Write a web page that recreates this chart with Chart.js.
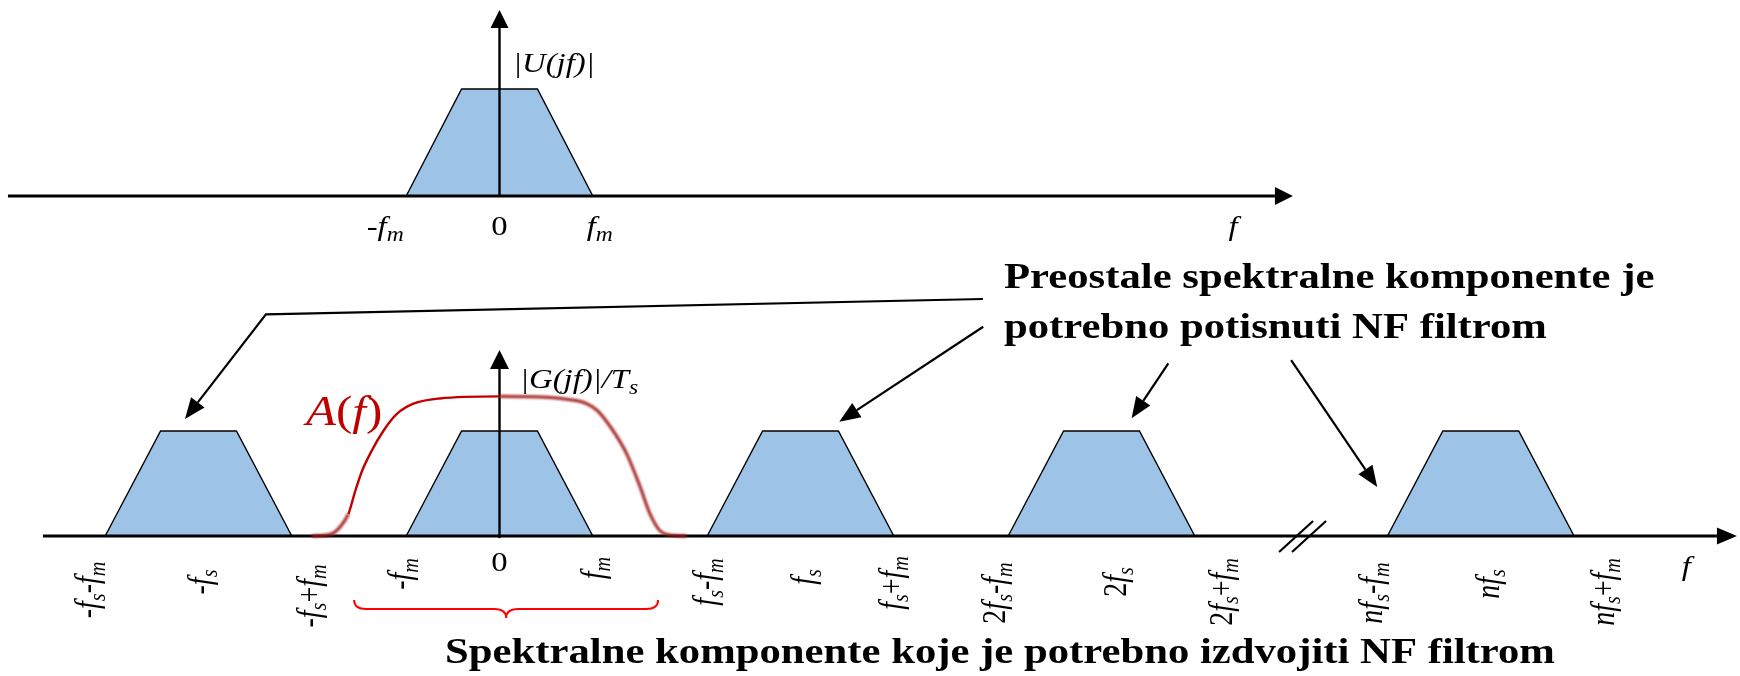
<!DOCTYPE html>
<html>
<head>
<meta charset="utf-8">
<script src="https://cdn.jsdelivr.net/npm/chart.js@4/dist/chart.umd.min.js"></script>
<style>
  html, body { margin: 0; padding: 0; background: #fff; }
  #wrap { width: 1740px; height: 676px; position: relative; }
</style>
</head>
<body>
<div id="wrap"><canvas id="c" width="1740" height="676"></canvas></div>
<script>
// Frequencies are in units of fs; magnitudes are normalised to the baseband peak.

// Baseband spectrum |U(jf)| (trapezoid corners)
const basebandFreq = [-0.31, -0.126, 0.126, 0.31];
const basebandMag  = [0, 1, 1, 0];

// Centres of the spectral replicas of the sampled signal: -fs, 0, fs, 2fs, n·fs (after the axis break)
const replicaCentres = [-1, 0, 1, 2, 3.26];

// Low-pass (NF) filter response A(f)
const filterFreq = [-0.624, -0.563, -0.530, -0.502, -0.480, -0.458, -0.425, -0.386, -0.342, -0.286, -0.198, 0,
                    0.256, 0.323, 0.378, 0.423, 0.467, 0.500, 0.533, 0.566, 0.622];
const filterGain = [0, 0.015, 0.085, 0.21, 0.42, 0.61, 0.81, 1.0, 1.16, 1.26, 1.31, 1.33,
                    1.29, 1.2, 1.0, 0.78, 0.47, 0.21, 0.05, 0.01, 0];

// Tick labels of the sampled spectrum ('_' marks a subscript)
const bottomTickValues = [-1.31, -1, -0.69, -0.31, 0, 0.31, 0.69, 1, 1.31, 1.69, 2, 2.31, 2.95, 3.26, 3.57];
const bottomTickLabels = ['-f_s-f_m', '-f_s', '-f_s+f_m', '-f_m', '0', 'f_m', 'f_s-f_m', 'f_s', 'f_s+f_m',
                          '2f_s-f_m', '2f_s', '2f_s+f_m', 'nf_s-f_m', 'nf_s', 'nf_s+f_m'];

// Tick labels of the baseband spectrum
const topTickValues = [-0.31, 0, 0.31];
const topTickLabels = ['-f_m', '0', 'f_m'];

// Text
const topAxisName = '|U(jf)|';
const bottomAxisName = '|G(jf)|/T_s';
const filterName = 'A(f)';
const freqName = 'f';
const calloutLines = ['Preostale spektralne komponente je', 'potrebno potisnuti NF filtrom'];
const passbandNote = 'Spektralne komponente koje je potrebno izdvojiti NF filtrom';

// ---------- layout ----------
const W = 1740, H = 676;
const L = {
  originX: 499.5, pxPerFs: 301,
  baseBottom: 536, pxPerUnitBottom: 105,
  baseTop: 196, pxPerUnitTop: 107
};
const SERIF = '"Liberation Serif", "Times New Roman", serif';
const SX = 1.17;            // horizontal stretch of the lettering
const LABEL_SIZE = 28;

// horizontal label nudges (px) and vertical label centres (px) for the rotated tick labels
const bottomLabelDx = [-18, 1.5, 17, -6, 0, 0, -2, 3, -3, -14, 14, 26, -16, 7, 29];
const bottomLabelCy = [590, 582, 596, 574, 562, 568, 582, 577, 583, 593, 582, 592, 593, 584, 592];
const topLabelDx = [-21, 0, 7];

// callout arrows, in (f / fs, bottom-panel magnitude) units
const callouts = [
  [[1.606, 2.257], [-0.776, 2.111], [-1.045, 1.114]],
  [[1.607, 1.993], [1.129, 1.089]],
  [[2.222, 1.645], [2.100, 1.121]],
  [[2.630, 1.676], [2.916, 0.467]]
];
// axis break marks (//) on the frequency axis
const breakMarks = [[[2.590, -0.152], [2.703, 0.143]], [[2.633, -0.152], [2.746, 0.143]]];

// ---------- drawing helpers ----------
function drawRich(ctx, str, x, y, o) {
  const size = o.size, sub = size * 0.72;
  const parts = [];
  for (let i = 0; i < str.length; i++) {
    let ch = str[i], isSub = false;
    if (ch === '_') { isSub = true; ch = str[++i]; }
    const italic = o.allItalic || /[A-Za-z]/.test(ch);
    parts.push({ ch, isSub, italic });
  }
  const fontOf = p => `${p.italic ? 'italic ' : ''}${p.isSub ? sub : size}px ${SERIF}`;
  let w = 0;
  for (const p of parts) { ctx.font = fontOf(p); p.w = ctx.measureText(p.ch).width; w += p.w; }
  ctx.save();
  ctx.translate(x, y);
  ctx.scale(o.sx || 1, 1);
  if (o.rotate) ctx.rotate(-Math.PI / 2);
  let cx = o.align === 'left' ? 0 : -w / 2;
  const by = o.middle ? size * 0.33 : 0;
  ctx.fillStyle = o.color || '#000';
  ctx.textAlign = 'left';
  ctx.textBaseline = 'alphabetic';
  for (const p of parts) {
    ctx.font = fontOf(p);
    ctx.fillText(p.ch, cx, by + (p.isSub ? size * 0.2 : 0));
    cx += p.w;
  }
  ctx.restore();
}

function drawPlain(ctx, str, x, y, font, align) {
  ctx.save();
  ctx.translate(x, y);
  ctx.scale(SX, 1);
  ctx.font = font;
  ctx.fillStyle = '#000';
  ctx.textAlign = align;
  ctx.textBaseline = 'alphabetic';
  ctx.fillText(str, 0, 0);
  ctx.restore();
}

function arrowHead(ctx, x0, y0, x1, y1, len, half) {
  const a = Math.atan2(y1 - y0, x1 - x0);
  const bx = x1 - len * Math.cos(a), by = y1 - len * Math.sin(a);
  ctx.beginPath();
  ctx.moveTo(x1, y1);
  ctx.lineTo(bx + half * Math.sin(a), by - half * Math.cos(a));
  ctx.lineTo(bx - half * Math.sin(a), by + half * Math.cos(a));
  ctx.closePath();
  ctx.fill();
  return [bx, by];
}

function arrowLine(ctx, x0, y0, x1, y1, width, len, half) {
  const [bx, by] = arrowHead(ctx, x0, y0, x1, y1, len, half);
  ctx.lineWidth = width;
  ctx.beginPath();
  ctx.moveTo(x0, y0);
  ctx.lineTo(bx, by);
  ctx.stroke();
}

function drawAxes(chart) {
  const ctx = chart.ctx, xs = chart.scales.x, yb = chart.scales.y, yt = chart.scales.yTop;
  ctx.save();
  ctx.strokeStyle = '#000';
  ctx.fillStyle = '#000';
  // baseband spectrum axes
  arrowLine(ctx, xs.getPixelForValue(-1.633), yt.getPixelForValue(0), xs.getPixelForValue(2.636), yt.getPixelForValue(0), 3, 18, 9);
  arrowLine(ctx, xs.getPixelForValue(0), yt.getPixelForValue(0), xs.getPixelForValue(0), yt.getPixelForValue(1.738), 2.4, 18, 9);
  // sampled spectrum axes
  arrowLine(ctx, xs.getPixelForValue(-1.517), yb.getPixelForValue(0), xs.getPixelForValue(4.111), yb.getPixelForValue(0), 3, 20, 8.5);
  arrowLine(ctx, xs.getPixelForValue(0), yb.getPixelForValue(-0.02), xs.getPixelForValue(0), yb.getPixelForValue(1.771), 2.4, 19, 9.5);
  // axis break
  ctx.lineWidth = 2.2;
  for (const seg of breakMarks) {
    ctx.beginPath();
    ctx.moveTo(xs.getPixelForValue(seg[0][0]), yb.getPixelForValue(seg[0][1]));
    ctx.lineTo(xs.getPixelForValue(seg[1][0]), yb.getPixelForValue(seg[1][1]));
    ctx.stroke();
  }
  ctx.restore();
}

function drawAnnotations(chart) {
  const ctx = chart.ctx, xs = chart.scales.x, yb = chart.scales.y, yt = chart.scales.yTop;
  ctx.save();
  ctx.strokeStyle = '#000';
  ctx.fillStyle = '#000';

  // tick labels, baseband
  topTickValues.forEach((v, i) => {
    drawRich(ctx, topTickLabels[i], xs.getPixelForValue(v) + topLabelDx[i], 226,
             { size: LABEL_SIZE, sx: SX, middle: true });
  });
  drawRich(ctx, freqName, xs.getPixelForValue(2.437), 226, { size: LABEL_SIZE, sx: SX, middle: true });
  drawRich(ctx, topAxisName, xs.getPixelForValue(0.045), 72, { size: LABEL_SIZE, sx: SX, align: 'left', allItalic: true });

  // tick labels, sampled spectrum
  bottomTickValues.forEach((v, i) => {
    const lab = bottomTickLabels[i];
    drawRich(ctx, lab, xs.getPixelForValue(v) + bottomLabelDx[i], bottomLabelCy[i],
             { size: LABEL_SIZE, sx: SX, middle: true, rotate: lab !== '0' });
  });
  drawRich(ctx, freqName, xs.getPixelForValue(3.943), 566, { size: LABEL_SIZE, sx: SX, middle: true });
  drawRich(ctx, bottomAxisName, xs.getPixelForValue(0.068), 388, { size: LABEL_SIZE, sx: SX, align: 'left', allItalic: true });
  drawRich(ctx, filterName, xs.getPixelForValue(-0.643), 425, { size: 42, sx: SX, align: 'left', color: '#c00000' });

  // callouts
  ctx.lineWidth = 2.2;
  ctx.lineJoin = 'miter';
  for (const path of callouts) {
    const pts = path.map(p => [xs.getPixelForValue(p[0]), yb.getPixelForValue(p[1])]);
    const n = pts.length;
    const [bx, by] = arrowHead(ctx, pts[n - 2][0], pts[n - 2][1], pts[n - 1][0], pts[n - 1][1], 21, 8.5);
    ctx.beginPath();
    ctx.moveTo(pts[0][0], pts[0][1]);
    for (let k = 1; k < n - 1; k++) ctx.lineTo(pts[k][0], pts[k][1]);
    ctx.lineTo(bx, by);
    ctx.stroke();
  }
  const boldFont = `bold 36.5px ${SERIF}`;
  drawPlain(ctx, calloutLines[0], 1004, 288, boldFont, 'left');
  drawPlain(ctx, calloutLines[1], 1004, 338, boldFont, 'left');

  // brace under the pass band
  const bl = xs.getPixelForValue(-0.483), br = xs.getPixelForValue(0.527), bm = xs.getPixelForValue(0.022);
  const top = 600, mid = 609, tip = 618;
  ctx.strokeStyle = '#ff0000';
  ctx.lineWidth = 2;
  ctx.beginPath();
  ctx.moveTo(bl, top);
  ctx.quadraticCurveTo(bl, mid, bl + 12, mid);
  ctx.lineTo(bm - 12, mid);
  ctx.quadraticCurveTo(bm, mid, bm, tip);
  ctx.quadraticCurveTo(bm, mid, bm + 12, mid);
  ctx.lineTo(br - 12, mid);
  ctx.quadraticCurveTo(br, mid, br, top);
  ctx.stroke();
  drawPlain(ctx, passbandNote, 1000, 663, boldFont, 'center');
  ctx.restore();
}

// ---------- datasets ----------
const sharpPart = c => c.p0.parsed.x >= -0.51 && c.p1.parsed.x <= 0.001;
const filterPoints = filterFreq.map((f, i) => ({ x: f, y: filterGain[i] }));

const datasets = [
  { label: 'A(f)', isFilter: true, data: filterPoints, yAxisID: 'y', order: 0,
    borderColor: '#c00000', borderWidth: 2.4, pointRadius: 0, fill: false,
    cubicInterpolationMode: 'monotone',
    segment: { borderColor: c => sharpPart(c) ? '#c00000' : 'rgba(0,0,0,0)' } },
  { label: 'A(f) soft', isFilter: true, soft: true, data: filterPoints, yAxisID: 'y', order: 0,
    borderColor: 'rgba(160,25,25,0.9)', borderWidth: 3.2, pointRadius: 0, fill: false,
    cubicInterpolationMode: 'monotone',
    segment: { borderColor: c => sharpPart(c) ? 'rgba(0,0,0,0)' : 'rgba(160,25,25,0.9)' } }
];
const trapStyle = { backgroundColor: '#9dc3e6', borderColor: '#000', borderWidth: 1.4,
                    pointRadius: 0, tension: 0, fill: 'origin', order: 1 };
replicaCentres.forEach(c => {
  datasets.push(Object.assign({ label: 'G ' + c, yAxisID: 'y',
    data: basebandFreq.map((f, i) => ({ x: c + f, y: basebandMag[i] })) }, trapStyle));
});
datasets.push(Object.assign({ label: 'U', yAxisID: 'yTop',
  data: basebandFreq.map((f, i) => ({ x: f, y: basebandMag[i] })) }, trapStyle));

const diagramPlugin = {
  id: 'diagram',
  beforeDatasetsDraw(chart) { chart.$axesDone = false; },
  beforeDatasetDraw(chart, args) {
    const ds = chart.data.datasets[args.index];
    if (ds.isFilter && !chart.$axesDone) { drawAxes(chart); chart.$axesDone = true; }
    if (ds.soft) { chart.ctx.save(); chart.ctx.filter = 'blur(1.1px)'; }
  },
  afterDatasetDraw(chart, args) {
    if (chart.data.datasets[args.index].soft) chart.ctx.restore();
  },
  afterDatasetsDraw(chart) { drawAnnotations(chart); }
};

new Chart(document.getElementById('c'), {
  type: 'line',
  data: { datasets },
  options: {
    responsive: false,
    animation: false,
    devicePixelRatio: 1,
    layout: { padding: 0 },
    plugins: { legend: { display: false }, tooltip: { enabled: false } },
    events: [],
    scales: {
      x: { type: 'linear', display: false,
           min: -L.originX / L.pxPerFs, max: (W - L.originX) / L.pxPerFs },
      y: { type: 'linear', display: false,
           min: -(H - L.baseBottom) / L.pxPerUnitBottom, max: L.baseBottom / L.pxPerUnitBottom },
      yTop: { type: 'linear', display: false,
              min: -(H - L.baseTop) / L.pxPerUnitTop, max: L.baseTop / L.pxPerUnitTop }
    }
  },
  plugins: [diagramPlugin]
});
</script>
</body>
</html>
